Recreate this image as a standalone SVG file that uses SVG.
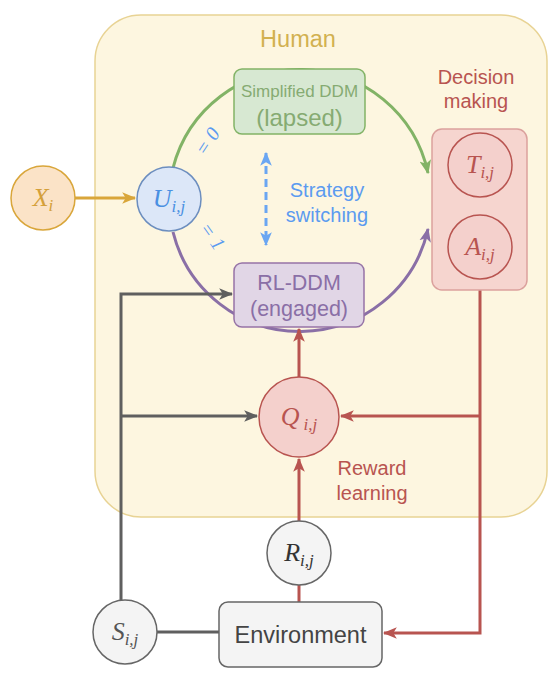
<svg xmlns="http://www.w3.org/2000/svg" width="560" height="686" viewBox="0 0 560 686">
<style>
.t{font-family:"Liberation Sans",Arial,sans-serif;text-anchor:middle}
.m{font-family:"Liberation Serif","Times New Roman",serif;font-style:italic;text-anchor:middle}
.ln{fill:none;stroke-width:3}
</style>
<defs>
<marker id="aGold" viewBox="0 0 12 10" refX="11" refY="5" markerWidth="14" markerHeight="12" markerUnits="userSpaceOnUse" orient="auto"><path d="M0,0 L12,5 L0,10 L3,5 z" fill="#d9a63a"/></marker>
<marker id="aGray" viewBox="0 0 12 10" refX="11" refY="5" markerWidth="14" markerHeight="12" markerUnits="userSpaceOnUse" orient="auto"><path d="M0,0 L12,5 L0,10 L3,5 z" fill="#5f5f5f"/></marker>
<marker id="aRed" viewBox="0 0 12 10" refX="11" refY="5" markerWidth="14" markerHeight="12" markerUnits="userSpaceOnUse" orient="auto"><path d="M0,0 L12,5 L0,10 L3,5 z" fill="#b85450"/></marker>
<marker id="aGreen" viewBox="0 0 12 10" refX="11" refY="5" markerWidth="14" markerHeight="12" markerUnits="userSpaceOnUse" orient="auto"><path d="M0,0 L12,5 L0,10 L3,5 z" fill="#82b366"/></marker>
<marker id="aPurple" viewBox="0 0 12 10" refX="11" refY="5" markerWidth="14" markerHeight="12" markerUnits="userSpaceOnUse" orient="auto"><path d="M0,0 L12,5 L0,10 L3,5 z" fill="#8a6fa6"/></marker>
<marker id="aBlue" viewBox="0 0 12 10" refX="11" refY="5" markerWidth="14" markerHeight="12" markerUnits="userSpaceOnUse" orient="auto-start-reverse"><path d="M0,0 L12,5 L0,10 L3,5 z" fill="#6aa6f2"/></marker>
</defs>

<g id="human">
<rect x="95" y="15" width="452" height="502" rx="46" fill="#fdf6e0" stroke="#e8d394" stroke-width="1.5"/>
<text class="t" x="298" y="47" font-size="23.5" fill="#d2b150">Human</text>
</g>

<g id="decision-label">
<text class="t" x="476" y="84" font-size="20" fill="#b85450">Decision</text>
<text class="t" x="476" y="108" font-size="20" fill="#b85450">making</text>
</g>

<g id="connectors">
<path class="ln" d="M75 198 H135" stroke="#d9a63a" marker-end="url(#aGold)"/>
<path class="ln" d="M173 168 A131 131 0 0 1 428 173" stroke="#82b366" marker-end="url(#aGreen)"/>
<path class="ln" d="M173 232 A131 131 0 0 0 428 229" stroke="#8a6fa6" marker-end="url(#aPurple)"/>
<path class="ln" d="M266 153 V245" stroke="#6aa6f2" stroke-dasharray="8 5" marker-start="url(#aBlue)" marker-end="url(#aBlue)"/>
<path class="ln" d="M121 600 V294 H232" stroke="#5f5f5f" marker-end="url(#aGray)"/>
<path class="ln" d="M121 416 H257" stroke="#5f5f5f" marker-end="url(#aGray)"/>
<path class="ln" d="M157 632 H219" stroke="#5f5f5f"/>
<path class="ln" d="M480 279 V633 H384" stroke="#b85450" marker-end="url(#aRed)"/>
<path class="ln" d="M480 416 H341" stroke="#b85450" marker-end="url(#aRed)"/>
<path class="ln" d="M299 377 V329" stroke="#b85450" marker-end="url(#aRed)"/>
<path class="ln" d="M299 521 V459" stroke="#b85450" marker-end="url(#aRed)"/>
<path class="ln" d="M299 602 V585" stroke="#b85450"/>
<text class="m" font-size="20" fill="#5b9bf0" transform="translate(213 145) rotate(-57)">= 0</text>
<text class="m" font-size="20" fill="#5b9bf0" transform="translate(207 240) rotate(55)">= 1</text>
</g>

<g id="simplified-ddm">
<rect x="234" y="69" width="131" height="65" rx="8" fill="#d7e8d2" stroke="#82b366" stroke-width="1.5"/>
<text class="t" x="299.5" y="97" font-size="17" fill="#86ab72">Simplified DDM</text>
<text class="t" x="299.5" y="126" font-size="24" fill="#86ab72">(lapsed)</text>
</g>

<g id="rl-ddm">
<rect x="234" y="263" width="130" height="64" rx="8" fill="#e1d6e6" stroke="#9673a6" stroke-width="1.5"/>
<text class="t" x="299" y="290" font-size="21.5" fill="#8a6fa6">RL-DDM</text>
<text class="t" x="299" y="316" font-size="21.5" fill="#8a6fa6">(engaged)</text>
</g>

<g id="strategy-switching">
<text class="t" x="327" y="197" font-size="20" fill="#5b9bf0">Strategy</text>
<text class="t" x="327" y="222" font-size="20" fill="#5b9bf0">switching</text>
</g>

<g id="decision-box">
<rect x="432" y="129" width="95" height="161" rx="10" fill="#f6d5cf" stroke="#dba19d" stroke-width="1.5"/>
</g>

<g id="T">
<circle cx="480" cy="165" r="32" fill="#f4d0cc" stroke="#b85450" stroke-width="1.5"/>
<text class="m" x="480" y="173" font-size="26" fill="#b85450">T<tspan font-size="17" dy="5">i,j</tspan></text>
</g>

<g id="A">
<circle cx="480" cy="247" r="32" fill="#f4d0cc" stroke="#b85450" stroke-width="1.5"/>
<text class="m" x="480" y="255" font-size="26" fill="#b85450">A<tspan font-size="17" dy="5">i,j</tspan></text>
</g>

<g id="X">
<circle cx="43" cy="198" r="32" fill="#fbe3c7" stroke="#d9a63a" stroke-width="1.5"/>
<text class="m" x="43" y="206" font-size="26" fill="#d4a03a">X<tspan font-size="17" dy="5">i</tspan></text>
</g>

<g id="U">
<circle cx="169" cy="199" r="32" fill="#dce7f8" stroke="#6c8ebf" stroke-width="1.5"/>
<text class="m" x="169" y="207" font-size="26" fill="#4a90e2">U<tspan font-size="17" dy="5">i,j</tspan></text>
</g>

<g id="Q">
<circle cx="299" cy="417" r="40" fill="#f4d0cc" stroke="#b85450" stroke-width="1.5"/>
<text class="m" x="299" y="425" font-size="26" fill="#b85450">Q<tspan font-size="17" dy="5" dx="4">i,j</tspan></text>
</g>

<g id="reward-learning">
<text class="t" x="372" y="475" font-size="20" fill="#b85450">Reward</text>
<text class="t" x="372" y="500" font-size="20" fill="#b85450">learning</text>
</g>

<g id="R">
<circle cx="299" cy="553" r="32" fill="#f4f4f4" stroke="#666" stroke-width="1.5"/>
<text class="m" x="299" y="561" font-size="26" fill="#333">R<tspan font-size="17" dy="5">i,j</tspan></text>
</g>

<g id="S">
<circle cx="125" cy="632" r="32" fill="#f4f4f4" stroke="#666" stroke-width="1.5"/>
<text class="m" x="125" y="640" font-size="26" fill="#555">S<tspan font-size="17" dy="5">i,j</tspan></text>
</g>

<g id="environment">
<rect x="219" y="602" width="163" height="65" rx="9" fill="#f4f4f4" stroke="#666" stroke-width="1.5"/>
<text class="t" x="300.5" y="643" font-size="23.5" fill="#444">Environment</text>
</g>
</svg>
